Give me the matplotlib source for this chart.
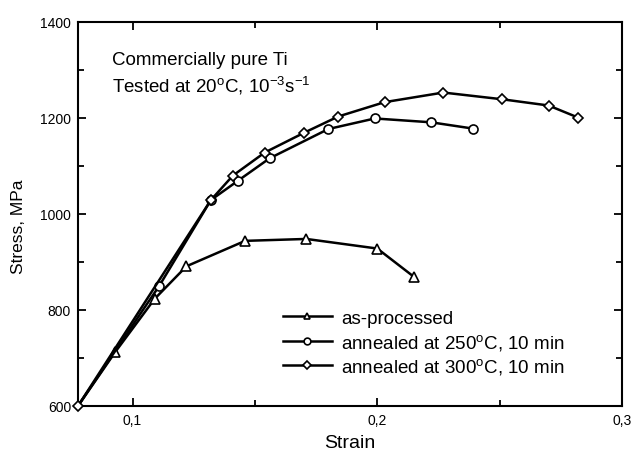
"""Stress-strain curves for commercially pure Ti (as-processed vs annealed)."""

import matplotlib

matplotlib.use("Agg")
import matplotlib.pyplot as plt
from matplotlib.ticker import FixedLocator, FuncFormatter, MultipleLocator

plt.rcParams["font.family"] = ["Liberation Sans", "DejaVu Sans"]
plt.rcParams["mathtext.fontset"] = "custom"
plt.rcParams["mathtext.rm"] = "Liberation Sans"
plt.rcParams["mathtext.it"] = "Liberation Sans:italic"
plt.rcParams["xtick.labelsize"] = 10
plt.rcParams["ytick.labelsize"] = 10

strain_asp = [0.0777, 0.093, 0.109, 0.122, 0.146, 0.171, 0.200, 0.215]
stress_asp = [600, 713, 823, 891, 944, 948, 928, 869]

strain_250 = [0.0777, 0.111, 0.132, 0.143, 0.156, 0.180, 0.199, 0.222, 0.239]
stress_250 = [600, 851, 1029, 1069, 1116, 1177, 1199, 1191, 1178]

strain_300 = [0.0777, 0.132, 0.141, 0.154, 0.170, 0.184, 0.203, 0.227, 0.251, 0.270, 0.282]
stress_300 = [600, 1029, 1080, 1128, 1169, 1203, 1233, 1253, 1239, 1226, 1201]

labels = [
    "as-processed",
    r"annealed at 250$^{\rm o}$C, 10 min",
    r"annealed at 300$^{\rm o}$C, 10 min",
]


def main() -> None:
    fig = plt.figure(figsize=(6.33, 4.56), dpi=100)
    ax = fig.add_axes([0.1232, 0.1075, 0.8594, 0.8421])

    style = dict(color="black", linewidth=1.8, markersize=6.5,
                 markerfacecolor="white", markeredgecolor="black",
                 markeredgewidth=1.2, clip_on=False)
    ax.plot(strain_asp[1:], stress_asp[1:], marker="^", label=labels[0], **style)
    ax.plot(strain_250, stress_250, marker="o", label=labels[1],
            markevery=list(range(1, len(strain_250))), **style)
    ax.plot(strain_300, stress_300, marker="D", label=labels[2],
            **{**style, "markersize": 5.5}, zorder=4)
    # first segment of as-processed drawn under the shared start marker
    ax.plot(strain_asp[:2], stress_asp[:2], color="black", linewidth=1.8, zorder=1)

    ax.set_xlim(0.0777, 0.3)
    ax.set_ylim(600, 1400)
    ax.xaxis.set_major_locator(FixedLocator([0.1, 0.2, 0.3]))
    ax.xaxis.set_minor_locator(FixedLocator([0.15, 0.25]))
    ax.yaxis.set_major_locator(MultipleLocator(200))
    ax.yaxis.set_minor_locator(MultipleLocator(100))
    ax.xaxis.set_major_formatter(FuncFormatter(lambda v, _: f"{v:.1f}".replace(".", ",")))
    ax.yaxis.set_major_formatter(FuncFormatter(lambda v, _: f"{v:.0f}"))
    ax.tick_params(which="both", direction="in", top=True, right=True, width=1.3)
    ax.tick_params(which="major", length=6, pad=5, labelsize=10)
    ax.tick_params(which="minor", length=4)
    for side in ax.spines.values():
        side.set_linewidth(1.5)

    ax.set_xlabel("Strain", fontsize=14, labelpad=5)
    ax.set_ylabel("Stress, MPa", fontsize=12.5, labelpad=10, y=0.47)

    ax.text(0.0625, 0.891, "Commercially pure Ti", transform=ax.transAxes,
            fontsize=13.5, va="baseline")
    ax.text(0.0625, 0.818, r"Tested at 20$^{\rm o}$C, 10$^{-3}$s$^{-1}$",
            transform=ax.transAxes, fontsize=13.5, va="baseline")

    ax.legend(loc="upper left", bbox_to_anchor=(0.363, 0.27), frameon=False,
              fontsize=13.5, handlelength=2.6, handletextpad=0.5,
              labelspacing=0.25, markerscale=0.75, borderaxespad=0)

    fig.savefig("out.png", dpi=100)
    plt.close(fig)


if __name__ == "__main__":
    main()
